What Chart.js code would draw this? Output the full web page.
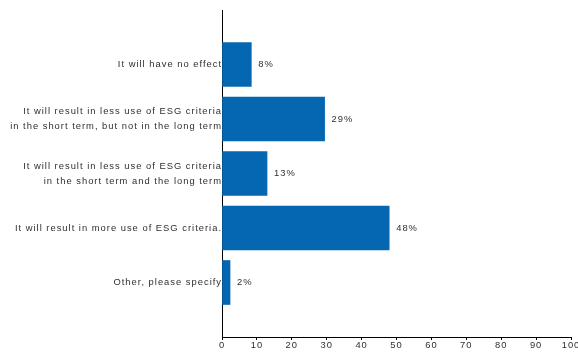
<!DOCTYPE html>
<html>
<head>
    <title>ESG criteria</title>
    <style>
        body { margin: 0; background: #fff; }
        .chart-box { width: 578px; height: 358px; }
    </style>
    <script src="https://cdn.jsdelivr.net/npm/chart.js"></script>
</head>
<body>
    <div class="chart-box"><canvas id="chart"></canvas></div>

    <script>
        // Answers (top to bottom) and share of respondents in percent
        const answers = [
            'It will have no effect',
            ['It will result in less use of ESG criteria', 'in the short term, but not in the long term'],
            ['It will result in less use of ESG criteria', 'in the short term and the long term'],
            'It will result in more use of ESG criteria.',
            'Other, please specify'
        ];
        const shares = [8.4, 29.4, 12.9, 47.9, 2.3];
        const xTicks = [0, 10, 20, 30, 40, 50, 60, 70, 80, 90, 100];

        const FONT = '"Liberation Sans", Arial, sans-serif';
        const TEXT = '#2f2f2f';

        // empty slots above and below so the bars sit like the original
        const labels = [''].concat(answers, ['']);
        const values = [null].concat(shares, [null]);

        // spaced-out lettering like the original
        const spacing = {
            id: 'spacing',
            beforeLayout(chart) { chart.ctx.letterSpacing = '1px'; },
            beforeDraw(chart) { chart.ctx.letterSpacing = '1px'; }
        };

        // percentage next to each bar
        const barLabels = {
            id: 'barLabels',
            afterDatasetsDraw(chart) {
                const ctx = chart.ctx;
                const meta = chart.getDatasetMeta(0);
                ctx.save();
                ctx.letterSpacing = '1px';
                ctx.font = '9.4px ' + FONT;
                ctx.fillStyle = TEXT;
                ctx.textAlign = 'left';
                ctx.textBaseline = 'middle';
                meta.data.forEach((bar, i) => {
                    const v = values[i];
                    if (v === null) return;
                    ctx.fillText(Math.round(v) + '%', bar.x + 7, bar.y);
                });
                ctx.restore();
            }
        };

        new Chart(document.getElementById('chart'), {
            type: 'bar',
            data: {
                labels: labels,
                datasets: [{
                    data: values,
                    backgroundColor: '#0567b1',
                    borderWidth: 0,
                    barThickness: 44
                }]
            },
            options: {
                indexAxis: 'y',
                responsive: true,
                maintainAspectRatio: false,
                animation: false,
                layout: { padding: { top: 10, right: 7, left: 0, bottom: 0 } },
                plugins: {
                    legend: { display: false },
                    tooltip: { enabled: false }
                },
                scales: {
                    y: {
                        offset: false,
                        grid: { display: false, drawTicks: false },
                        border: { display: true, color: '#000', width: 1 },
                        ticks: {
                            color: TEXT,
                            padding: 0,
                            font: { family: FONT, size: 9.4, lineHeight: 1.6 }
                        },
                        afterFit(scale) { scale.width = 222; }
                    },
                    x: {
                        min: 0,
                        max: 100,
                        afterBuildTicks(scale) {
                            scale.ticks = xTicks.map(v => ({ value: v }));
                        },
                        grid: {
                            drawOnChartArea: false,
                            color: '#000',
                            tickLength: 3
                        },
                        border: { display: true, color: '#000', width: 1 },
                        ticks: {
                            color: TEXT,
                            padding: 0,
                            maxRotation: 0,
                            font: { family: FONT, size: 9.4 }
                        },
                        afterFit(scale) {
                            scale.height = 21;
                            scale.paddingLeft = 0;
                            scale.paddingRight = 0;
                        }
                    }
                }
            },
            plugins: [spacing, barLabels]
        });
    </script>
</body>
</html>
